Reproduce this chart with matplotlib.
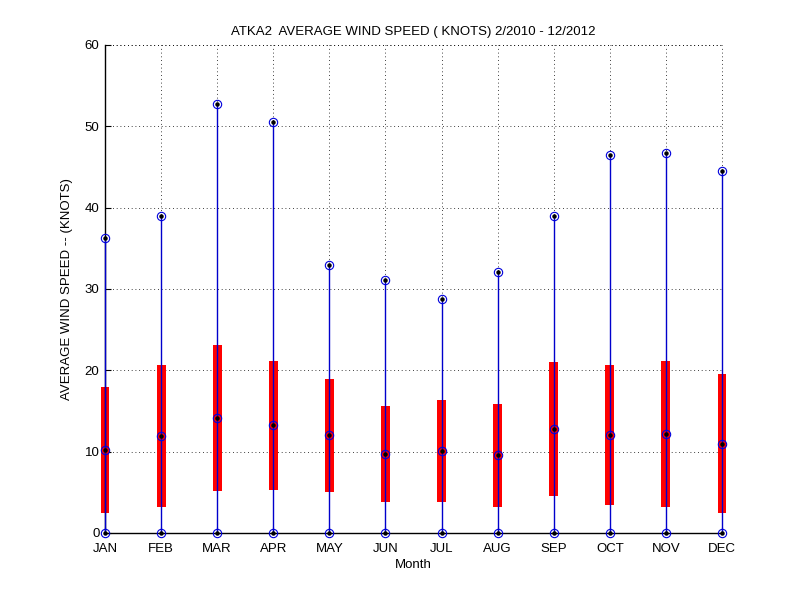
import matplotlib
matplotlib.use("Agg")
import matplotlib.pyplot as plt
import numpy as np

months = ["JAN", "FEB", "MAR", "APR", "MAY", "JUN", "JUL", "AUG", "SEP", "OCT", "NOV", "DEC"]
min_vals = [0, 0, 0, 0, 0, 0, 0, 0, 0, 0, 0, 0]
q1_vals = [2.5, 3.2, 5.2, 5.3, 5.1, 3.8, 3.8, 3.2, 4.6, 3.5, 3.2, 2.4]
median_vals = [10.2, 11.9, 14.1, 13.3, 12.1, 9.7, 10.1, 9.6, 12.8, 12.1, 12.2, 11.0]
q3_vals = [17.9, 20.6, 23.1, 21.2, 18.9, 15.6, 16.3, 15.9, 21.0, 20.7, 21.2, 19.6]
max_vals = [36.3, 39.0, 52.7, 50.5, 32.9, 31.1, 28.8, 32.1, 39.0, 46.5, 46.7, 44.5]
yticks = [0, 10, 20, 30, 40, 50, 60]

plt.rcParams['font.family'] = ['Liberation Sans', 'DejaVu Sans']

fig = plt.figure(figsize=(8, 6), dpi=100)
ax = fig.add_axes([0.13125, 0.1117, 0.77125, 0.8133])

x = np.arange(1, len(months) + 1)
q1 = np.array(q1_vals)
q3 = np.array(q3_vals)

grid_style = dict(color='black', linestyle=(0, (1, 3.5)), linewidth=0.6)

# boxes
ax.bar(x, q3 - q1, bottom=q1, width=0.16, color='#ff0000', edgecolor='none',
       zorder=2, clip_on=False)
# whiskers
ax.vlines(x, min_vals, max_vals, color='#0000cc', linewidth=1.0, zorder=3, clip_on=False)

for vals in (min_vals, median_vals, max_vals):
    ax.plot(x, vals, linestyle='none', marker='o', markersize=6, markerfacecolor='none',
            markeredgecolor='#0000dd', markeredgewidth=0.8, zorder=4, clip_on=False)
    ax.plot(x, vals, linestyle='none', marker='o', markersize=2.2, color='black', zorder=5,
            clip_on=False)

ax.set_xlim(1, 12)
ax.set_ylim(0, 60)
ax.set_xticks(x)
ax.set_xticklabels(months)
ax.set_yticks(yticks)
ax.tick_params(direction='in', length=4, labelsize=9.5, colors='black')
ax.tick_params(axis='x', pad=7)
ax.tick_params(axis='y', pad=4)

ax.spines['top'].set_visible(False)
ax.spines['right'].set_visible(False)
ax.spines['left'].set_linewidth(1.0)
ax.spines['bottom'].set_linewidth(1.0)

ax.grid(True, **grid_style)
ax.set_axisbelow(True)
# dotted lines at top and right limits (MATLAB grid at limits)
ax.axhline(60, zorder=1, clip_on=False, **grid_style)
ax.axvline(12, zorder=1, clip_on=False, **grid_style)

ax.set_title("ATKA2  AVERAGE WIND SPEED ( KNOTS) 2/2010 - 12/2012", fontsize=9.5, pad=7)
ax.set_xlabel("Month", fontsize=9.5, labelpad=3)
ax.set_ylabel("AVERAGE WIND SPEED -- (KNOTS)", fontsize=9.5, labelpad=8)

fig.savefig("out.png", dpi=100, facecolor='white')
